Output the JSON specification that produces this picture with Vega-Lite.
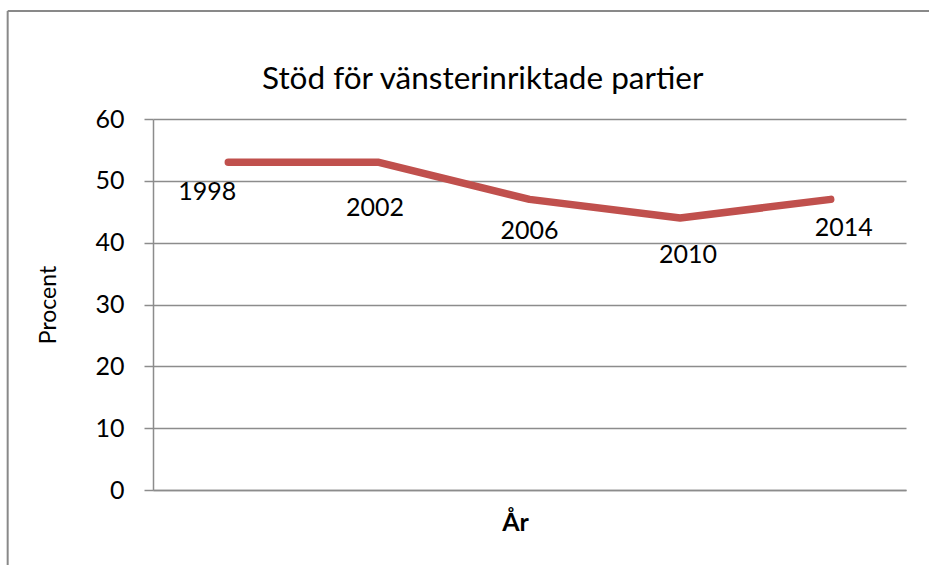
{
  "$schema": "https://vega.github.io/schema/vega-lite/v6.json",
  "autosize": {"type": "none"},
  "width": 753,
  "height": 371,
  "padding": {"left": 153, "top": 119, "right": 23, "bottom": 75},
  "background": "white",
  "title": {
    "text": "Stöd för vänsterinriktade partier",
    "anchor": "start",
    "frame": "group",
    "dx": 109,
    "font": "Lato",
    "fontSize": 31.5,
    "fontWeight": "normal",
    "color": "#000000",
    "baseline": "alphabetic",
    "offset": -111
  },
  "config": {
    "view": {"stroke": null},
    "font": "Lato",
    "axisX": {
      "title": "År",
      "titleFont": "Lato",
      "titleFontSize": 25,
      "titleFontWeight": "bold",
      "titleColor": "#000000",
      "titlePadding": 20,
      "titleX": 362,
      "labels": false,
      "ticks": false,
      "grid": false,
      "domainColor": "#8c8c8c",
      "domainWidth": 1.5
    },
    "axisY": {
      "titleFont": "Lato",
      "titleFontSize": 23,
      "titleFontWeight": "normal",
      "titleColor": "#000000",
      "titlePadding": 34,
      "labelFont": "Lato",
      "labelFontSize": 25,
      "labelColor": "#000000",
      "labelPadding": 20,
      "tickSize": 9,
      "tickColor": "#8c8c8c",
      "tickWidth": 1.5,
      "domainColor": "#8c8c8c",
      "domainWidth": 1.5,
      "grid": true,
      "gridColor": "#8c8c8c",
      "gridWidth": 1.5,
      "gridOpacity": 1
    }
  },
  "datasets": {
    "frame": [{"edge": "top"}]
  },
  "data": {
    "values": [
      {"year": 1998, "procent": 53},
      {"year": 2002, "procent": 53},
      {"year": 2006, "procent": 47},
      {"year": 2010, "procent": 44},
      {"year": 2014, "procent": 47}
    ]
  },
  "layer": [
    {
      "mark": {"type": "line", "color": "#C0504D", "strokeWidth": 7.5, "strokeCap": "round", "strokeJoin": "round"},
      "encoding": {
        "x": {
          "field": "year",
          "type": "quantitative",
          "scale": {"domain": [1996, 2016], "nice": false, "zero": false},
          "axis": {"title": "År"}
        },
        "y": {
          "field": "procent",
          "type": "quantitative",
          "scale": {"domain": [0, 60], "nice": false},
          "axis": {"title": "Procent", "values": [0, 10, 20, 30, 40, 50, 60], "grid": true}
        }
      }
    },
    {
      "data": {"name": "frame"},
      "mark": {"type": "rule", "color": "#898989", "strokeWidth": 2, "clip": false},
      "encoding": {
        "x": {"datum": 1992.14, "type": "quantitative"},
        "x2": {"datum": 2030},
        "y": {"datum": 77.47, "type": "quantitative"}
      }
    },
    {
      "data": {"name": "frame"},
      "mark": {"type": "rule", "color": "#898989", "strokeWidth": 2, "clip": false},
      "encoding": {
        "x": {"datum": 1992.14, "type": "quantitative"},
        "y": {"datum": 77.47, "type": "quantitative"},
        "y2": {"datum": -30}
      }
    },
    {
      "layer": [
        {
          "transform": [{"filter": "datum.year == 1998"}],
          "mark": {"type": "text", "font": "Lato", "fontSize": 25, "color": "#000000", "baseline": "middle", "dx": -21, "dy": 30}
        },
        {
          "transform": [{"filter": "datum.year == 2002"}],
          "mark": {"type": "text", "font": "Lato", "fontSize": 25, "color": "#000000", "baseline": "middle", "dx": -4, "dy": 46}
        },
        {
          "transform": [{"filter": "datum.year == 2006"}],
          "mark": {"type": "text", "font": "Lato", "fontSize": 25, "color": "#000000", "baseline": "middle", "dx": 0, "dy": 32}
        },
        {
          "transform": [{"filter": "datum.year == 2010"}],
          "mark": {"type": "text", "font": "Lato", "fontSize": 25, "color": "#000000", "baseline": "middle", "dx": 8, "dy": 37}
        },
        {
          "transform": [{"filter": "datum.year == 2014"}],
          "mark": {"type": "text", "font": "Lato", "fontSize": 25, "color": "#000000", "baseline": "middle", "dx": 13, "dy": 29}
        }
      ],
      "encoding": {
        "x": {"field": "year", "type": "quantitative"},
        "y": {"field": "procent", "type": "quantitative"},
        "text": {"field": "year", "type": "nominal"}
      }
    }
  ]
}
